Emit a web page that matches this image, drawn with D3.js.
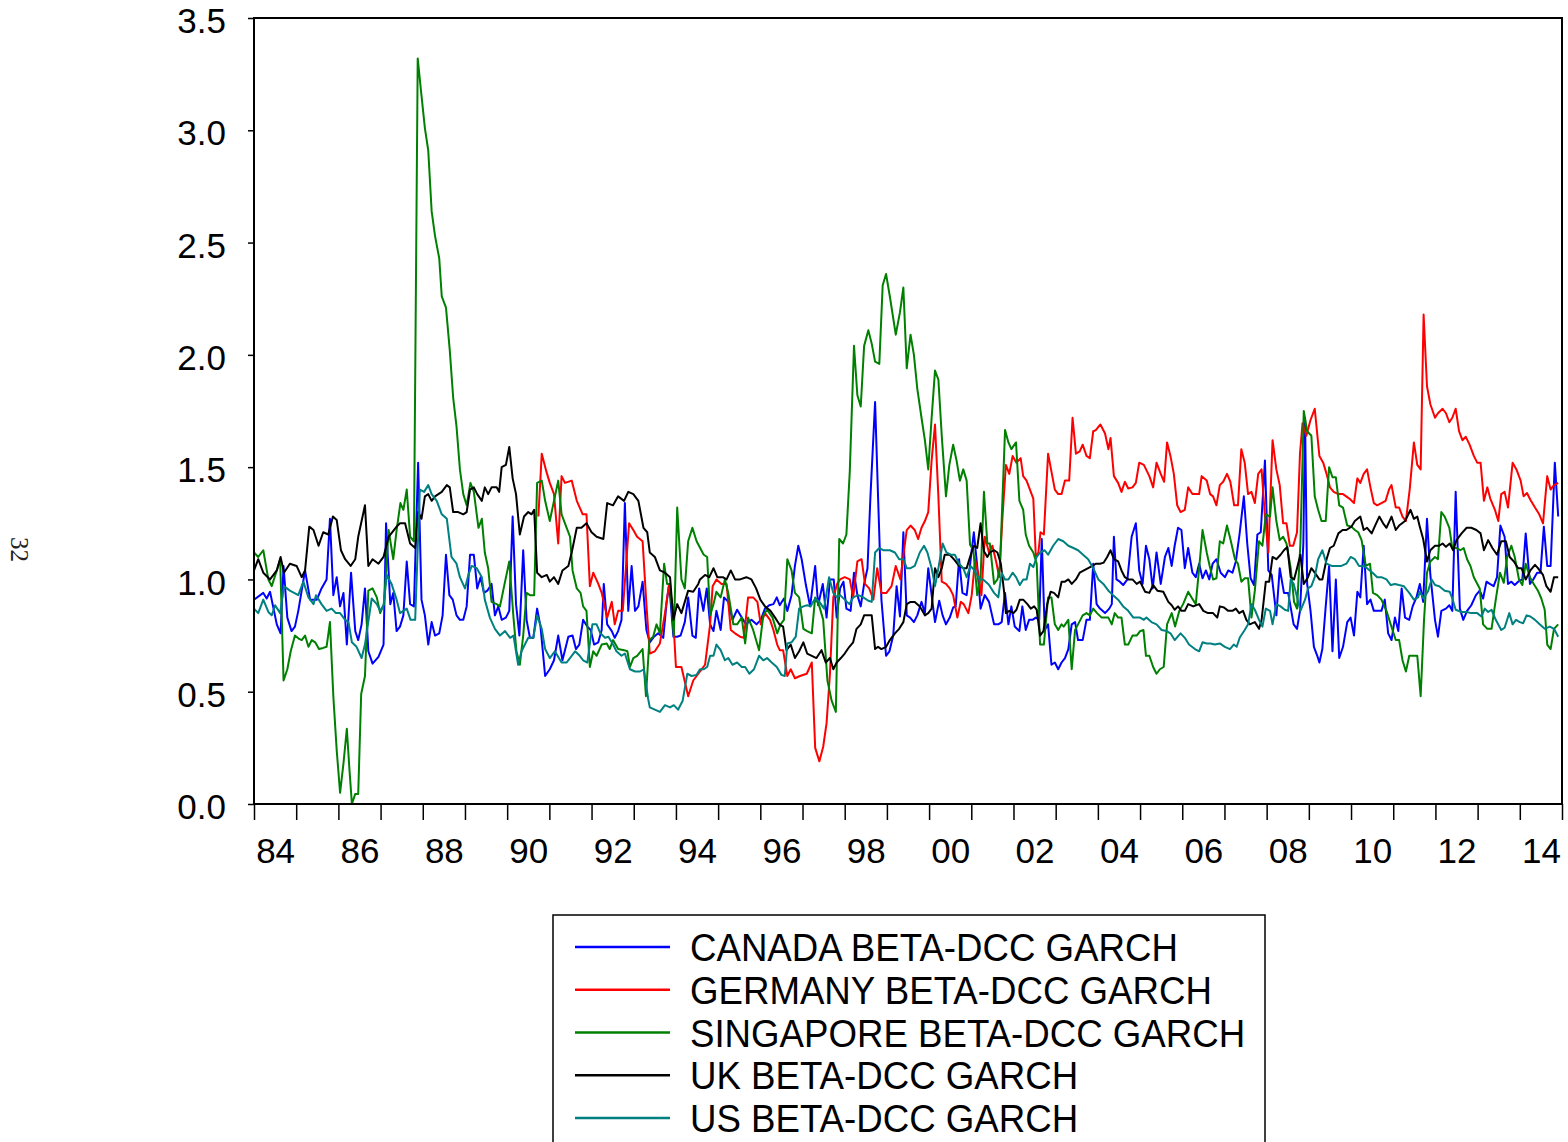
<!DOCTYPE html>
<html>
<head>
<meta charset="utf-8">
<script src="https://cdn.jsdelivr.net/npm/d3@7"></script>
<style>
  body { margin: 0; background: #fff; }
  svg { display: block; }
  .tick text { font-family: "Liberation Sans", Arial, sans-serif; }
</style>
</head>
<body>
<div id="chart"></div>
<script>
// beta series, [decimal year, value]
const canada = [[1984.00,0.91],[1984.22,0.94],[1984.30,0.915],[1984.38,0.945],[1984.54,0.80],[1984.63,0.76],[1984.70,1.06],[1984.79,0.83],[1984.89,0.77],[1984.97,0.79],[1985.05,0.86],[1985.21,1.04],[1985.33,0.91],[1985.49,0.91],[1985.60,0.96],[1985.72,1.00],[1985.80,1.27],[1985.88,0.93],[1985.96,1.01],[1986.04,0.88],[1986.12,0.94],[1986.20,0.71],[1986.30,1.03],[1986.40,0.77],[1986.47,0.73],[1986.55,0.80],[1986.63,0.96],[1986.71,0.68],[1986.81,0.625],[1986.95,0.655],[1987.07,0.71],[1987.13,1.25],[1987.23,0.89],[1987.30,0.94],[1987.38,0.77],
  [1987.46,0.79],[1987.54,0.84],[1987.62,1.08],[1987.70,0.89],[1987.79,0.88],[1987.89,1.52],[1987.97,0.91],[1988.05,0.84],[1988.13,0.71],[1988.21,0.81],[1988.29,0.75],[1988.39,0.76],[1988.47,0.84],[1988.55,1.11],[1988.63,0.93],[1988.71,0.91],[1988.80,0.84],[1988.88,0.82],[1988.96,0.82],[1989.04,0.88],[1989.12,1.11],[1989.21,1.11],[1989.29,0.96],[1989.37,1.01],[1989.45,0.94],[1989.53,0.95],[1989.63,0.98],[1989.71,0.84],[1989.79,0.88],[1989.87,0.82],[1989.97,0.83],[1990.05,0.86],[1990.13,1.28],[1990.21,0.89],[1990.29,0.75],[1990.38,1.13],[1990.46,0.82],[1990.54,0.74],[1990.62,0.74],[1990.71,0.87],[1990.79,0.79],[1990.90,0.57],
  [1991.01,0.60],[1991.11,0.64],[1991.21,0.75],[1991.31,0.64],[1991.45,0.745],[1991.55,0.75],[1991.63,0.69],[1991.71,0.71],[1991.80,0.82],[1991.90,0.79],[1991.98,0.775],[1992.06,0.71],[1992.16,0.72],[1992.24,0.775],[1992.29,0.98],[1992.37,0.80],[1992.48,0.77],[1992.55,0.74],[1992.63,0.77],[1992.71,0.82],[1992.79,1.34],[1992.87,0.86],[1992.95,1.06],[1993.03,0.86],[1993.11,0.88],[1993.21,0.99],[1993.30,0.775],[1993.38,0.72],[1993.48,0.745],[1993.58,0.76],[1993.70,0.74],[1993.78,0.90],[1993.84,0.98],[1993.94,0.745],[1994.03,0.745],[1994.11,0.75],[1994.21,0.81],[1994.29,0.92],[1994.39,0.75],[1994.47,0.74],[1994.55,0.96],
  [1994.65,0.86],[1994.73,0.96],[1994.81,0.80],[1994.89,0.77],[1994.96,0.86],[1995.06,0.775],[1995.14,0.92],[1995.24,0.90],[1995.34,0.82],[1995.45,0.865],[1995.56,0.83],[1995.66,0.80],[1995.79,0.82],[1995.91,0.80],[1996.01,0.82],[1996.11,0.87],[1996.21,0.885],[1996.31,0.89],[1996.39,0.92],[1996.46,0.885],[1996.56,0.915],[1996.64,0.86],[1996.74,0.93],[1996.82,1.06],[1996.90,1.15],[1996.98,1.09],[1997.08,0.975],[1997.18,0.88],[1997.30,1.06],[1997.37,0.885],[1997.48,0.98],[1997.57,0.83],[1997.65,1.00],[1997.74,1.00],[1997.81,0.83],
  [1997.89,0.96],[1997.97,0.99],[1998.04,0.87],[1998.14,0.86],[1998.22,1.03],[1998.30,0.93],[1998.38,0.88],[1998.46,0.98],[1998.54,1.05],[1998.61,1.37],[1998.72,1.79],[1998.79,1.37],[1998.87,0.91],[1998.98,0.66],[1999.06,0.68],[1999.15,0.75],[1999.23,0.97],[1999.31,0.835],[1999.39,1.21],[1999.47,0.84],[1999.55,0.83],[1999.64,0.81],[1999.72,0.84],[1999.82,0.90],[1999.90,0.85],[1999.98,1.05],[2000.06,0.93],[2000.14,0.81],[2000.24,0.905],[2000.32,0.84],[2000.40,0.80],[2000.49,0.83],[2000.57,0.875],[2000.63,0.88],[2000.71,1.09],[2000.79,0.94],[2000.89,0.93],[2000.98,1.08],[2001.06,1.21],[2001.14,1.06],[2001.22,0.87],[2001.32,0.93],[2001.42,0.90],
  [2001.54,0.80],[2001.64,0.80],[2001.72,0.81],[2001.80,0.94],[2001.88,0.80],[2001.95,0.88],[2002.03,0.79],[2002.14,0.77],[2002.21,0.88],[2002.29,0.775],[2002.37,0.82],[2002.45,0.82],[2002.53,0.83],[2002.61,0.82],[2002.67,1.18],[2002.74,0.775],[2002.82,0.80],[2002.90,0.62],[2002.98,0.63],[2003.06,0.60],[2003.14,0.63],[2003.22,0.65],[2003.30,0.69],[2003.38,0.80],[2003.46,0.81],[2003.53,0.73],[2003.64,0.73],[2003.73,0.82],[2003.81,0.82],[2003.89,1.07],[2003.97,0.89],[2004.05,0.87],[2004.17,0.85],[2004.27,0.87],[2004.33,0.89],[2004.38,1.19],[2004.44,1.00],[2004.52,0.99],[2004.60,0.975],[2004.70,1.00],[2004.80,1.19],[2004.90,1.25],[2004.98,1.04],
  [2005.06,0.98],[2005.14,1.15],[2005.22,1.09],[2005.30,0.96],[2005.39,1.12],[2005.49,0.98],[2005.59,1.10],[2005.67,1.14],[2005.75,1.06],[2005.82,1.15],[2005.90,1.23],[2005.98,1.22],[2006.06,1.05],[2006.14,1.14],[2006.24,1.03],[2006.32,1.01],[2006.40,1.07],[2006.48,1.005],[2006.56,1.04],[2006.64,1.00],[2006.72,1.07],[2006.81,1.09],[2006.91,1.03],[2007.01,1.01],[2007.09,1.04],[2007.19,1.03],[2007.27,1.08],[2007.36,1.205],[2007.46,1.37],[2007.54,1.16],[2007.62,1.005],[2007.70,0.975],[2007.78,1.20],[2007.86,1.21],[2007.96,1.53],[2008.04,1.04],[2008.12,1.02],[2008.23,0.84],[2008.31,1.05],[2008.41,0.94],[2008.51,0.94],
  [2008.64,0.80],[2008.72,0.78],[2008.79,0.86],[2008.87,1.16],[2008.91,1.72],[2008.96,0.98],[2009.04,0.86],[2009.12,0.70],[2009.20,0.66],[2009.25,0.63],[2009.32,0.69],[2009.40,0.88],[2009.48,1.06],[2009.56,0.68],[2009.64,1.00],[2009.72,0.65],[2009.81,0.70],[2009.91,0.81],[2009.99,0.83],[2010.07,0.75],[2010.15,0.945],[2010.22,0.92],[2010.30,1.15],[2010.38,0.89],[2010.46,0.91],[2010.54,0.86],[2010.62,0.86],[2010.72,0.86],[2010.80,0.91],[2010.88,0.76],[2010.96,0.73],[2011.04,0.83],[2011.12,0.77],[2011.20,0.96],[2011.28,0.83],[2011.38,0.82],[2011.46,0.88],[2011.55,0.92],
  [2011.63,0.98],[2011.71,0.90],[2011.80,1.27],[2011.88,1.02],[2011.99,0.82],[2012.06,0.745],[2012.14,0.86],[2012.25,0.87],[2012.33,0.885],[2012.40,0.86],[2012.48,1.39],[2012.58,0.87],[2012.66,0.82],[2012.75,0.86],[2012.85,0.885],[2012.96,0.93],[2013.05,0.95],[2013.13,0.915],[2013.21,0.99],[2013.29,0.98],[2013.38,0.97],[2013.46,1.01],[2013.54,1.24],[2013.64,1.19],[2013.72,0.98],[2013.80,0.99],[2013.88,0.975],[2013.96,0.99],[2014.06,1.00],[2014.14,1.205],[2014.24,0.98],[2014.32,1.00],[2014.41,1.03],[2014.49,1.03],[2014.57,1.235],[2014.65,1.06],[2014.73,1.06],[2014.83,1.52],[2014.91,1.28]];

const germany = [[1990.74,1.28],[1990.82,1.56],[1990.93,1.48],[1991.01,1.43],[1991.11,1.38],[1991.21,1.16],[1991.29,1.46],[1991.37,1.43],[1991.53,1.44],[1991.65,1.35],[1991.79,1.29],[1991.88,1.29],[1991.96,0.97],[1992.04,1.03],[1992.16,0.98],[1992.24,0.94],[1992.37,0.83],[1992.48,0.90],[1992.55,0.80],[1992.63,0.86],[1992.74,0.86],[1992.89,1.25],[1992.99,1.22],[1993.08,1.19],[1993.21,1.17],[1993.30,0.89],[1993.38,0.67],[1993.50,0.68],[1993.62,0.715],[1993.74,0.85],[1993.84,0.98],[1993.92,0.88],[1994.00,0.61],[1994.13,0.61],[1994.29,0.48],[1994.41,0.55],[1994.57,0.59],
  [1994.69,0.62],[1994.81,0.80],[1994.87,0.97],[1994.96,1.00],[1995.08,0.98],[1995.20,0.98],[1995.30,0.775],[1995.40,0.76],[1995.52,0.745],[1995.61,0.74],[1995.71,0.92],[1995.83,0.92],[1995.93,0.90],[1996.01,0.80],[1996.11,0.85],[1996.23,0.82],[1996.31,0.775],[1996.40,0.71],[1996.46,0.685],[1996.54,0.685],[1996.64,0.57],[1996.72,0.60],[1996.82,0.56],[1996.94,0.57],[1997.10,0.58],[1997.22,0.63],[1997.30,0.25],[1997.40,0.19],[1997.49,0.255],[1997.57,0.36],[1997.65,0.58],[1997.73,0.92],[1997.82,0.98],
  [1997.89,1.00],[1998.00,1.01],[1998.12,1.00],[1998.20,0.92],[1998.30,1.08],[1998.40,1.09],[1998.48,0.98],[1998.58,0.96],[1998.68,0.91],[1998.77,1.05],[1998.87,0.94],[1998.99,0.94],[1999.11,0.97],[1999.21,1.06],[1999.32,1.00],[1999.40,1.12],[1999.47,1.22],[1999.56,1.24],[1999.66,1.22],[1999.74,1.18],[1999.82,1.23],[1999.90,1.26],[1999.98,1.30],[2000.06,1.53],[2000.14,1.69],[2000.22,1.37],[2000.30,0.99],[2000.40,0.98],[2000.49,0.96],[2000.57,0.93],[2000.67,0.83],[2000.75,0.90],[2000.82,0.89],[2000.93,0.85],[2001.01,0.93],[2001.09,1.09],[2001.17,1.02],[2001.24,0.93],[2001.32,1.19],[2001.42,1.12],
  [2001.50,1.15],[2001.60,1.07],[2001.66,1.01],[2001.74,1.28],[2001.82,1.51],[2001.90,1.47],[2001.98,1.55],[2002.07,1.52],[2002.17,1.54],[2002.23,1.46],[2002.31,1.44],[2002.39,1.40],[2002.47,1.36],[2002.53,1.10],[2002.59,1.12],[2002.64,1.21],[2002.72,1.20],[2002.82,1.56],[2002.90,1.48],[2002.98,1.40],[2003.06,1.38],[2003.14,1.38],[2003.22,1.44],[2003.32,1.44],[2003.40,1.72],[2003.48,1.56],[2003.57,1.57],[2003.64,1.60],[2003.73,1.55],[2003.81,1.54],[2003.89,1.66],[2003.95,1.665],[2004.06,1.69],[2004.17,1.65],[2004.25,1.58],[2004.30,1.63],[2004.38,1.46],[2004.48,1.43],[2004.56,1.39],[2004.64,1.435],[2004.72,1.405],[2004.82,1.41],[2004.90,1.43],[2004.98,1.52],
  [2005.09,1.51],[2005.22,1.46],[2005.31,1.41],[2005.39,1.52],[2005.49,1.47],[2005.57,1.435],[2005.64,1.61],[2005.72,1.55],[2005.80,1.47],[2005.88,1.33],[2005.96,1.30],[2006.06,1.31],[2006.14,1.41],[2006.24,1.38],[2006.34,1.38],[2006.40,1.38],[2006.46,1.46],[2006.58,1.44],[2006.66,1.38],[2006.73,1.37],[2006.81,1.33],[2006.89,1.42],[2006.97,1.435],[2007.06,1.47],[2007.14,1.435],[2007.23,1.33],[2007.32,1.33],[2007.40,1.58],[2007.48,1.52],[2007.56,1.38],[2007.64,1.39],[2007.72,1.34],[2007.80,1.47],[2007.88,1.49],[2007.96,1.28],[2008.04,1.12],[2008.14,1.62],[2008.23,1.49],[2008.31,1.42],[2008.39,1.25],[2008.47,1.25],
  [2008.55,1.15],[2008.63,1.15],[2008.72,1.21],[2008.79,1.56],[2008.85,1.695],[2008.94,1.64],[2009.04,1.71],[2009.14,1.76],[2009.25,1.55],[2009.34,1.52],[2009.42,1.47],[2009.50,1.41],[2009.59,1.39],[2009.70,1.38],[2009.81,1.38],[2009.96,1.36],[2010.07,1.34],[2010.15,1.45],[2010.22,1.43],[2010.30,1.47],[2010.38,1.49],[2010.46,1.41],[2010.54,1.34],[2010.62,1.33],[2010.72,1.34],[2010.82,1.35],[2010.90,1.40],[2010.96,1.42],[2011.06,1.32],[2011.14,1.32],[2011.22,1.28],[2011.30,1.26],[2011.39,1.40],[2011.49,1.61],[2011.57,1.51],[2011.65,1.49],
  [2011.72,2.18],[2011.80,1.86],[2011.88,1.78],[2011.99,1.72],[2012.06,1.74],[2012.17,1.76],[2012.25,1.74],[2012.33,1.70],[2012.40,1.72],[2012.48,1.76],[2012.56,1.66],[2012.64,1.62],[2012.72,1.635],[2012.81,1.60],[2012.91,1.55],[2012.99,1.52],[2013.07,1.52],[2013.15,1.35],[2013.23,1.41],[2013.30,1.36],[2013.41,1.31],[2013.49,1.26],[2013.56,1.38],[2013.64,1.39],[2013.72,1.32],[2013.83,1.52],[2013.92,1.49],[2014.02,1.44],[2014.09,1.37],[2014.17,1.385],[2014.25,1.355],[2014.36,1.32],[2014.46,1.29],[2014.55,1.25],[2014.65,1.46],[2014.73,1.40],[2014.81,1.42],[2014.91,1.43]];

const singapore = [[1984.00,1.12],[1984.10,1.10],[1984.22,1.13],[1984.34,1.00],[1984.42,0.97],[1984.54,1.04],[1984.62,1.09],[1984.70,0.55],[1984.79,0.60],[1984.87,0.68],[1984.97,0.75],[1985.07,0.735],[1985.13,0.73],[1985.21,0.75],[1985.29,0.70],[1985.37,0.73],[1985.45,0.72],[1985.54,0.69],[1985.64,0.695],[1985.72,0.70],[1985.80,0.81],[1985.88,0.48],[1985.96,0.24],[1986.04,0.05],[1986.12,0.18],[1986.20,0.335],[1986.26,0.16],[1986.32,0.0],[1986.40,0.045],[1986.47,0.045],[1986.54,0.49],[1986.63,0.57],[1986.71,0.95],[1986.81,0.96],[1986.91,0.92],[1986.99,0.85],[1987.08,0.89],[1987.19,1.22],[1987.30,1.09],[1987.38,1.22],
  [1987.47,1.34],[1987.54,1.31],[1987.62,1.40],[1987.70,1.19],[1987.79,1.17],[1987.88,3.32],[1987.95,3.19],[1988.05,3.01],[1988.13,2.91],[1988.21,2.64],[1988.29,2.53],[1988.39,2.43],[1988.45,2.26],[1988.55,2.21],[1988.64,2.02],[1988.72,1.81],[1988.80,1.68],[1988.88,1.49],[1988.96,1.38],[1989.04,1.33],[1989.13,1.43],[1989.21,1.39],[1989.32,1.23],[1989.40,1.27],[1989.47,1.12],[1989.55,1.05],[1989.63,0.90],[1989.75,0.89],[1989.83,0.88],[1989.95,0.99],[1990.05,1.08],[1990.15,0.83],[1990.22,0.68],[1990.30,0.62],[1990.38,0.75],[1990.46,0.94],[1990.54,0.93],[1990.64,0.93],[1990.71,1.43],[1990.82,1.44],[1990.90,1.35],
  [1991.01,1.26],[1991.21,1.44],[1991.29,1.29],[1991.41,1.23],[1991.49,1.19],[1991.55,1.04],[1991.65,0.96],[1991.74,0.94],[1991.80,0.88],[1991.88,0.86],[1991.96,0.61],[1992.04,0.68],[1992.12,0.66],[1992.24,0.71],[1992.36,0.715],[1992.43,0.69],[1992.51,0.73],[1992.63,0.69],[1992.77,0.685],[1992.85,0.68],[1992.91,0.61],[1992.99,0.65],[1993.08,0.66],[1993.21,0.69],[1993.29,0.48],[1993.37,0.73],[1993.46,0.745],[1993.54,0.80],[1993.62,0.76],[1993.72,1.07],[1993.79,0.98],[1993.86,0.98],[1993.95,0.75],[1994.03,1.32],[1994.13,1.00],[1994.21,0.96],[1994.29,1.17],[1994.39,1.23],[1994.49,1.17],[1994.63,1.12],
  [1994.66,1.11],[1994.74,1.10],[1994.81,0.84],[1994.89,0.89],[1994.96,0.945],[1995.06,0.92],[1995.16,1.00],[1995.24,0.94],[1995.36,0.80],[1995.45,0.80],[1995.56,0.83],[1995.64,0.715],[1995.71,0.83],[1995.83,0.775],[1995.97,0.685],[1996.07,0.84],[1996.16,0.865],[1996.29,0.83],[1996.40,0.76],[1996.48,0.80],[1996.56,0.82],[1996.64,1.09],[1996.74,1.04],[1996.82,0.94],[1996.92,0.92],[1997.02,0.78],[1997.11,0.77],[1997.22,0.76],[1997.30,0.92],[1997.40,0.88],[1997.49,0.82],[1997.59,0.55],[1997.69,0.46],[1997.79,0.41],[1997.87,1.18],[1997.96,1.16],
  [1998.04,1.20],[1998.12,1.48],[1998.22,2.04],[1998.30,1.82],[1998.38,1.77],[1998.46,2.04],[1998.56,2.11],[1998.64,2.05],[1998.72,1.97],[1998.82,1.96],[1998.90,2.31],[1998.98,2.36],[1999.07,2.26],[1999.21,2.09],[1999.31,2.19],[1999.39,2.30],[1999.47,1.94],[1999.56,2.09],[1999.64,2.00],[1999.72,1.85],[1999.82,1.72],[1999.90,1.62],[1999.98,1.49],[2000.06,1.72],[2000.14,1.93],[2000.22,1.89],[2000.30,1.64],[2000.40,1.37],[2000.48,1.51],[2000.57,1.60],[2000.65,1.53],[2000.73,1.44],[2000.81,1.49],[2000.89,1.44],[2000.97,1.155],[2001.05,1.13],[2001.14,0.93],[2001.22,1.01],[2001.30,1.39],[2001.38,1.16],
  [2001.44,1.16],[2001.54,0.98],[2001.62,1.00],[2001.68,1.06],[2001.80,1.665],[2001.88,1.61],[2001.95,1.58],[2002.06,1.61],[2002.14,1.35],[2002.23,1.31],[2002.29,1.20],[2002.37,1.15],[2002.47,1.12],[2002.55,1.07],[2002.63,0.71],[2002.72,0.71],[2002.82,0.92],[2002.90,0.92],[2002.98,0.80],[2003.06,0.775],[2003.14,0.80],[2003.19,0.79],[2003.30,0.82],[2003.38,0.60],[2003.46,0.775],[2003.53,0.80],[2003.64,0.84],[2003.73,0.85],[2003.81,0.84],[2003.89,0.87],[2003.98,0.85],[2004.09,0.83],[2004.17,0.83],[2004.25,0.83],[2004.33,0.80],[2004.40,0.85],[2004.48,0.83],[2004.56,0.83],[2004.64,0.71],[2004.72,0.71],[2004.82,0.75],[2004.92,0.75],
  [2005.00,0.77],[2005.08,0.775],[2005.14,0.66],[2005.22,0.66],[2005.31,0.61],[2005.39,0.58],[2005.47,0.60],[2005.56,0.61],[2005.64,0.80],[2005.75,0.85],[2005.83,0.79],[2005.93,0.86],[2006.02,0.89],[2006.14,0.945],[2006.22,0.92],[2006.32,0.89],[2006.42,1.09],[2006.48,1.22],[2006.58,1.12],[2006.65,1.06],[2006.73,1.00],[2006.81,1.005],[2006.89,1.17],[2006.97,1.16],[2007.06,1.24],[2007.14,1.18],[2007.25,1.09],[2007.32,1.07],[2007.40,0.99],[2007.48,1.005],[2007.56,1.005],[2007.64,0.83],[2007.72,0.95],[2007.82,1.17],[2007.90,1.15],[2007.98,1.29],[2008.08,1.28],[2008.14,1.41],[2008.23,1.26],[2008.31,1.175],[2008.39,1.19],[2008.47,1.16],
  [2008.57,1.05],[2008.65,0.90],[2008.72,0.87],[2008.80,1.16],[2008.88,1.75],[2008.96,1.66],[2009.06,1.64],[2009.14,1.37],[2009.22,1.31],[2009.30,1.26],[2009.40,1.26],[2009.48,1.50],[2009.56,1.455],[2009.64,1.455],[2009.72,1.33],[2009.81,1.32],[2009.91,1.24],[2010.01,1.235],[2010.09,1.22],[2010.17,1.21],[2010.25,1.175],[2010.35,1.06],[2010.45,1.07],[2010.52,0.94],[2010.62,0.93],[2010.72,0.91],[2010.84,0.86],[2010.94,0.80],[2011.06,0.73],[2011.14,0.73],[2011.22,0.64],[2011.30,0.59],[2011.38,0.66],[2011.49,0.66],[2011.57,0.66],[2011.65,0.48],[2011.73,0.82],[2011.80,1.03],[2011.88,1.08],
  [2011.99,1.10],[2012.06,1.09],[2012.14,1.30],[2012.22,1.28],[2012.33,1.23],[2012.40,1.14],[2012.50,1.14],[2012.59,1.13],[2012.67,1.14],[2012.75,1.09],[2012.83,1.06],[2012.91,1.01],[2013.05,0.96],[2013.13,0.80],[2013.23,0.78],[2013.33,0.78],[2013.43,0.91],[2013.53,1.03],[2013.62,0.985],[2013.70,1.10],[2013.80,1.15],[2013.88,1.10],[2013.98,1.00],[2014.06,0.975],[2014.14,1.07],[2014.24,1.01],[2014.33,0.98],[2014.43,0.95],[2014.51,0.915],[2014.59,0.865],[2014.65,0.71],[2014.73,0.69],[2014.81,0.78],[2014.91,0.80]];

const uk = [[1984.00,1.04],[1984.10,1.09],[1984.22,1.03],[1984.38,1.00],[1984.54,1.04],[1984.63,1.10],[1984.71,1.03],[1984.85,1.07],[1985.01,1.06],[1985.13,1.01],[1985.21,1.04],[1985.31,1.235],[1985.41,1.22],[1985.53,1.15],[1985.64,1.21],[1985.76,1.20],[1985.87,1.28],[1985.96,1.265],[1986.06,1.13],[1986.16,1.09],[1986.29,1.06],[1986.40,1.09],[1986.47,1.19],[1986.63,1.33],[1986.71,1.06],[1986.81,1.09],[1986.95,1.07],[1987.07,1.10],[1987.19,1.19],[1987.38,1.235],
  [1987.46,1.25],[1987.58,1.25],[1987.70,1.16],[1987.82,1.14],[1987.89,1.30],[1987.97,1.27],[1988.05,1.37],[1988.13,1.38],[1988.21,1.35],[1988.29,1.37],[1988.45,1.39],[1988.57,1.42],[1988.64,1.41],[1988.72,1.30],[1988.84,1.30],[1988.96,1.29],[1989.04,1.30],[1989.12,1.40],[1989.21,1.41],[1989.29,1.38],[1989.40,1.35],[1989.47,1.41],[1989.55,1.38],[1989.63,1.41],[1989.75,1.41],[1989.81,1.39],[1989.87,1.50],[1989.97,1.51],[1990.05,1.59],[1990.13,1.45],[1990.21,1.38],[1990.30,1.20],[1990.40,1.28],[1990.50,1.30],[1990.58,1.29],[1990.64,1.31],[1990.71,1.03],[1990.82,1.01],[1990.94,1.02],
  [1991.01,0.99],[1991.11,1.01],[1991.21,0.98],[1991.31,1.04],[1991.45,1.06],[1991.53,1.12],[1991.65,1.23],[1991.76,1.23],[1991.88,1.25],[1992.00,1.21],[1992.12,1.19],[1992.28,1.18],[1992.37,1.34],[1992.51,1.33],[1992.63,1.37],[1992.77,1.35],[1992.87,1.39],[1992.99,1.38],[1993.11,1.35],[1993.23,1.23],[1993.32,1.21],[1993.38,1.12],[1993.50,1.10],[1993.62,1.04],[1993.74,1.03],[1993.86,1.01],[1993.94,0.82],[1994.03,0.89],[1994.13,0.85],[1994.29,0.95],[1994.41,0.945],[1994.53,0.98],
  [1994.57,1.00],[1994.69,1.02],[1994.79,1.01],[1994.89,1.05],[1994.98,1.01],[1995.11,1.01],[1995.20,1.00],[1995.30,1.04],[1995.40,1.00],[1995.52,1.00],[1995.67,1.01],[1995.79,1.00],[1995.90,0.96],[1996.00,0.91],[1996.11,0.88],[1996.24,0.86],[1996.35,0.83],[1996.45,0.80],[1996.54,0.79],[1996.62,0.685],[1996.72,0.71],[1996.82,0.65],[1996.92,0.68],[1997.02,0.72],[1997.11,0.67],[1997.22,0.66],[1997.33,0.65],[1997.45,0.685],[1997.55,0.63],[1997.65,0.65],[1997.73,0.60],[1997.81,0.63],
  [1997.91,0.65],[1998.00,0.67],[1998.11,0.70],[1998.20,0.72],[1998.28,0.78],[1998.38,0.80],[1998.46,0.84],[1998.56,0.84],[1998.64,0.84],[1998.72,0.69],[1998.79,0.70],[1998.87,0.69],[1998.98,0.70],[1999.07,0.73],[1999.19,0.76],[1999.29,0.78],[1999.39,0.81],[1999.47,0.89],[1999.56,0.90],[1999.66,0.90],[1999.78,0.88],[1999.90,0.84],[1999.98,0.85],[2000.06,0.87],[2000.14,1.05],[2000.22,1.01],[2000.30,1.05],[2000.37,1.11],[2000.49,1.11],[2000.61,1.085],[2000.71,1.06],[2000.81,1.05],[2000.89,1.05],[2000.97,1.10],[2001.06,1.15],[2001.14,1.14],[2001.22,1.25],[2001.30,1.125],[2001.38,1.10],
  [2001.44,1.12],[2001.54,1.13],[2001.62,1.12],[2001.70,1.07],[2001.78,0.94],[2001.82,0.85],[2001.90,0.86],[2002.00,0.85],[2002.07,0.865],[2002.15,0.91],[2002.23,0.91],[2002.33,0.89],[2002.41,0.87],[2002.49,0.88],[2002.55,0.865],[2002.63,0.75],[2002.71,0.77],[2002.80,0.89],[2002.88,0.945],[2002.96,0.94],[2003.06,0.92],[2003.14,0.99],[2003.22,0.99],[2003.30,1.00],[2003.38,0.98],[2003.48,1.00],[2003.57,1.03],[2003.67,1.04],[2003.77,1.05],[2003.87,1.06],[2003.95,1.07],[2004.05,1.07],[2004.14,1.075],[2004.22,1.10],[2004.30,1.13],[2004.38,1.09],[2004.48,1.08],[2004.56,1.04],[2004.64,1.01],[2004.72,1.00],[2004.82,1.00],[2004.92,0.98],
  [2005.00,0.99],[2005.12,0.945],[2005.22,0.94],[2005.31,0.975],[2005.41,0.95],[2005.55,0.945],[2005.67,0.90],[2005.75,0.885],[2005.82,0.865],[2005.90,0.88],[2005.98,0.86],[2006.06,0.86],[2006.14,0.89],[2006.26,0.88],[2006.40,0.89],[2006.50,0.86],[2006.61,0.85],[2006.73,0.85],[2006.83,0.83],[2006.89,0.88],[2006.99,0.875],[2007.09,0.86],[2007.19,0.86],[2007.27,0.87],[2007.35,0.85],[2007.44,0.86],[2007.52,0.82],[2007.60,0.80],[2007.72,0.81],[2007.82,0.78],[2007.88,0.82],[2007.98,0.99],[2008.06,0.99],[2008.14,1.10],[2008.23,1.09],[2008.33,1.11],[2008.41,1.13],[2008.49,1.145],
  [2008.57,1.01],[2008.65,1.00],[2008.72,1.05],[2008.80,1.11],[2008.88,0.98],[2008.98,1.01],[2009.06,1.05],[2009.14,1.03],[2009.25,1.00],[2009.32,1.00],[2009.42,1.09],[2009.50,1.14],[2009.59,1.15],[2009.70,1.205],[2009.80,1.22],[2009.89,1.22],[2010.01,1.235],[2010.09,1.26],[2010.22,1.28],[2010.30,1.22],[2010.38,1.23],[2010.49,1.205],[2010.56,1.235],[2010.67,1.28],[2010.76,1.25],[2010.84,1.23],[2010.96,1.28],[2011.06,1.22],[2011.14,1.24],[2011.28,1.26],[2011.41,1.31],[2011.49,1.27],[2011.57,1.28],
  [2011.63,1.235],[2011.71,1.18],[2011.80,1.08],[2011.88,1.13],[2011.99,1.15],[2012.09,1.15],[2012.17,1.16],[2012.25,1.145],[2012.34,1.16],[2012.42,1.13],[2012.50,1.175],[2012.62,1.205],[2012.74,1.23],[2012.85,1.23],[2012.97,1.22],[2013.07,1.205],[2013.15,1.13],[2013.25,1.175],[2013.35,1.14],[2013.46,1.11],[2013.56,1.17],[2013.67,1.17],[2013.76,1.10],[2013.86,1.08],[2013.96,1.05],[2014.04,1.05],[2014.14,1.00],[2014.25,1.04],[2014.36,1.065],[2014.43,1.05],[2014.55,1.02],[2014.63,0.97],[2014.73,0.945],[2014.81,1.01],[2014.91,1.01]];

const us = [[1984.00,0.87],[1984.10,0.85],[1984.22,0.91],[1984.34,0.855],[1984.42,0.84],[1984.50,0.885],[1984.62,0.85],[1984.71,0.97],[1984.85,0.95],[1985.05,0.93],[1985.17,0.99],[1985.29,0.92],[1985.41,0.89],[1985.47,0.93],[1985.60,0.89],[1985.72,0.86],[1985.84,0.87],[1985.94,0.85],[1986.04,0.85],[1986.16,0.82],[1986.24,0.81],[1986.32,0.72],[1986.43,0.70],[1986.55,0.65],[1986.63,0.71],[1986.79,0.915],[1986.91,0.89],[1986.99,0.86],[1987.07,0.885],[1987.15,1.02],[1987.26,0.98],[1987.38,0.91],
  [1987.46,0.85],[1987.54,0.86],[1987.62,0.87],[1987.71,0.82],[1987.82,0.82],[1987.93,1.40],[1988.03,1.39],[1988.13,1.42],[1988.21,1.38],[1988.33,1.35],[1988.45,1.29],[1988.57,1.27],[1988.68,1.10],[1988.80,1.07],[1988.88,1.01],[1989.00,0.96],[1989.08,1.02],[1989.16,1.06],[1989.28,1.05],[1989.40,1.01],[1989.47,0.91],[1989.59,0.83],[1989.71,0.78],[1989.83,0.75],[1989.95,0.77],[1990.07,0.74],[1990.15,0.75],[1990.26,0.62],[1990.34,0.68],[1990.50,0.74],[1990.62,0.74],[1990.71,0.84],[1990.82,0.78],[1990.90,0.69],
  [1991.01,0.65],[1991.13,0.68],[1991.29,0.63],[1991.41,0.63],[1991.61,0.68],[1991.72,0.66],[1991.80,0.64],[1991.90,0.63],[1992.02,0.80],[1992.12,0.80],[1992.21,0.76],[1992.32,0.74],[1992.40,0.745],[1992.51,0.71],[1992.59,0.68],[1992.71,0.66],[1992.79,0.67],[1992.91,0.60],[1993.03,0.59],[1993.15,0.59],[1993.24,0.60],[1993.34,0.47],[1993.38,0.43],[1993.50,0.42],[1993.62,0.41],[1993.74,0.44],[1993.86,0.43],[1993.95,0.44],[1994.05,0.42],[1994.16,0.46],[1994.27,0.58],[1994.37,0.57],[1994.49,0.575],
  [1994.57,0.60],[1994.66,0.60],[1994.74,0.61],[1994.81,0.66],[1994.89,0.66],[1994.96,0.71],[1995.06,0.685],[1995.16,0.64],[1995.24,0.65],[1995.34,0.62],[1995.45,0.63],[1995.56,0.61],[1995.64,0.61],[1995.74,0.58],[1995.85,0.60],[1995.97,0.66],[1996.07,0.64],[1996.16,0.65],[1996.27,0.63],[1996.39,0.61],[1996.50,0.575],[1996.58,0.57],[1996.64,0.715],[1996.74,0.72],[1996.84,0.745],[1996.92,0.87],[1997.02,0.88],[1997.11,0.885],[1997.19,0.88],[1997.30,0.915],[1997.40,0.90],[1997.51,0.87],[1997.63,1.01],[1997.73,0.94],[1997.82,0.92],
  [1997.89,0.93],[1998.00,0.91],[1998.11,0.89],[1998.20,0.92],[1998.32,0.93],[1998.44,0.92],[1998.56,0.905],[1998.64,0.90],[1998.72,1.12],[1998.82,1.14],[1998.91,1.13],[1999.07,1.13],[1999.19,1.12],[1999.29,1.09],[1999.39,1.09],[1999.47,1.05],[1999.56,1.05],[1999.66,1.06],[1999.78,1.12],[1999.88,1.15],[1999.96,1.12],[2000.06,1.05],[2000.14,0.97],[2000.22,1.05],[2000.32,1.16],[2000.41,1.12],[2000.51,1.11],[2000.61,1.11],[2000.71,1.07],[2000.81,1.05],[2000.89,1.01],[2000.98,1.06],[2001.08,1.04],[2001.19,1.00],[2001.28,1.00],[2001.40,0.98],
  [2001.44,0.97],[2001.54,0.94],[2001.64,0.92],[2001.72,1.03],[2001.80,1.00],[2001.88,1.00],[2001.98,1.03],[2002.06,1.01],[2002.15,0.975],[2002.23,1.00],[2002.31,1.00],[2002.39,1.07],[2002.47,1.055],[2002.55,1.10],[2002.63,1.12],[2002.74,1.13],[2002.82,1.11],[2002.94,1.15],[2003.06,1.18],[2003.18,1.17],[2003.30,1.15],[2003.42,1.14],[2003.53,1.13],[2003.65,1.11],[2003.77,1.09],[2003.89,1.05],[2004.01,1.00],[2004.13,0.98],[2004.25,0.95],[2004.36,0.93],[2004.48,0.91],[2004.60,0.88],[2004.72,0.86],[2004.84,0.83],[2004.96,0.83],
  [2005.00,0.83],[2005.09,0.82],[2005.15,0.83],[2005.27,0.81],[2005.39,0.80],[2005.51,0.775],[2005.63,0.77],[2005.72,0.76],[2005.82,0.73],[2005.96,0.76],[2006.06,0.74],[2006.16,0.71],[2006.30,0.69],[2006.40,0.68],[2006.48,0.72],[2006.58,0.715],[2006.67,0.715],[2006.77,0.71],[2006.89,0.715],[2007.01,0.70],[2007.13,0.69],[2007.22,0.71],[2007.29,0.70],[2007.36,0.74],[2007.48,0.775],[2007.56,0.80],[2007.64,0.89],[2007.72,0.865],[2007.82,0.82],[2007.90,0.79],[2007.98,0.87],[2008.08,0.86],[2008.14,0.80],[2008.23,0.89],[2008.33,0.88],[2008.43,0.865],[2008.51,0.86],
  [2008.57,1.00],[2008.64,0.98],[2008.71,0.93],[2008.80,0.86],[2008.91,0.91],[2008.98,0.96],[2009.06,0.97],[2009.14,1.01],[2009.22,1.09],[2009.32,1.13],[2009.42,1.07],[2009.54,1.06],[2009.66,1.06],[2009.77,1.06],[2009.89,1.07],[2009.99,1.10],[2010.09,1.09],[2010.19,1.06],[2010.29,1.06],[2010.38,1.05],[2010.51,1.03],[2010.62,1.01],[2010.72,1.01],[2010.84,1.00],[2010.94,0.975],[2011.04,0.98],[2011.14,0.975],[2011.25,0.97],[2011.38,0.94],[2011.49,0.91],[2011.59,0.92],
  [2011.63,0.945],[2011.72,0.915],[2011.83,0.95],[2011.91,1.00],[2011.99,0.975],[2012.09,0.97],[2012.22,0.95],[2012.34,0.945],[2012.40,0.915],[2012.48,0.865],[2012.62,0.855],[2012.74,0.855],[2012.85,0.85],[2012.99,0.85],[2013.09,0.835],[2013.17,0.87],[2013.25,0.855],[2013.33,0.865],[2013.43,0.82],[2013.56,0.775],[2013.64,0.785],[2013.75,0.85],[2013.83,0.80],[2013.91,0.82],[2014.00,0.81],[2014.08,0.805],[2014.16,0.84],[2014.25,0.835],[2014.36,0.82],[2014.47,0.80],[2014.59,0.78],[2014.71,0.79],[2014.81,0.78],[2014.91,0.745]];

const seriesNames = ["CANADA BETA-DCC GARCH", "GERMANY BETA-DCC GARCH", "SINGAPORE BETA-DCC GARCH", "UK BETA-DCC GARCH", "US BETA-DCC GARCH"];
const seriesColors = ["#0000ff", "#ff0000", "#008000", "#000000", "#008080"];
const yTicks = [0, 0.5, 1.0, 1.5, 2.0, 2.5, 3.0, 3.5];
const yearTicks = d3.range(1984, 2016);
const yearLabels = d3.range(1984, 2015, 2);

const allSeries = [canada, germany, singapore, uk, us];

var W = 1568, H = 1142;
var margin = {top: 18, right: 6, bottom: 338, left: 254};
var width = W - margin.left - margin.right,
    height = H - margin.top - margin.bottom;

var svg = d3.select("#chart")
  .append("svg")
  .attr("width", W)
  .attr("height", H);

var g = svg.append("g")
  .attr("transform", "translate(" + margin.left + "," + margin.top + ")");

var x = d3.scaleLinear().domain([1984, 2015]).range([0, width]);
var y = d3.scaleLinear().domain([0, 3.5]).range([height, 0]);

// y axis
var yAx = g.append("g")
  .call(d3.axisLeft(y).tickValues(yTicks).tickFormat(d3.format(".1f")).tickSize(6).tickPadding(22));
yAx.select(".domain").remove();
yAx.selectAll(".tick line").attr("stroke", "#000").attr("stroke-width", 1.5);
yAx.selectAll(".tick text").style("font-size", "35px").attr("fill", "#000").attr("dy", "0.42em");

// x axis: yearly ticks
var xAx = g.append("g")
  .attr("transform", "translate(0," + height + ")")
  .call(d3.axisBottom(x).tickValues(yearTicks).tickFormat("").tickSize(16));
xAx.select(".domain").remove();
xAx.selectAll(".tick line").attr("stroke", "#000").attr("stroke-width", 1.5);

// x labels centred in the year
var xLab = g.append("g")
  .attr("transform", "translate(0," + height + ")")
  .call(d3.axisBottom(x).tickValues(yearLabels.map(d => d + 0.5))
    .tickFormat(d => d3.format("02")(Math.floor(d) % 100)).tickSize(0).tickPadding(34));
xLab.select(".domain").remove();
xLab.selectAll(".tick text").style("font-size", "35px").attr("fill", "#000");

// lines
var line = d3.line().x(d => x(d[0])).y(d => y(d[1]));
allSeries.forEach(function(s, i) {
  g.append("path")
    .datum(s)
    .attr("d", line)
    .attr("fill", "none")
    .attr("stroke", seriesColors[i])
    .attr("stroke-width", 2)
    .attr("stroke-linejoin", "round");
});

// frame
g.append("rect")
  .attr("x", 0).attr("y", 0)
  .attr("width", width).attr("height", height)
  .attr("fill", "none")
  .attr("stroke", "#000")
  .attr("stroke-width", 2);

// legend
var leg = svg.append("g").attr("transform", "translate(553,915)");
leg.append("rect")
  .attr("x", 0).attr("y", 0)
  .attr("width", 712).attr("height", 260)
  .attr("fill", "#fff")
  .attr("stroke", "#000")
  .attr("stroke-width", 1.5);

var rowY = d3.scalePoint().domain(seriesNames).range([32, 203]);
seriesNames.forEach(function(nm, i) {
  var yy = rowY(nm);
  leg.append("line")
    .attr("x1", 22).attr("x2", 117)
    .attr("y1", yy).attr("y2", yy)
    .attr("stroke", seriesColors[i])
    .attr("stroke-width", 2.5);
  leg.append("text")
    .attr("transform", "translate(137," + (yy + 14) + ") scale(0.94,1)")
    .style("font-family", "'Liberation Sans', Arial, sans-serif")
    .style("font-size", "39px")
    .attr("fill", "#000")
    .text(nm);
});

// page number in the margin
svg.append("text")
  .attr("transform", "translate(11,537) rotate(90)")
  .style("font-family", "'Liberation Serif', 'Times New Roman', serif")
  .style("font-size", "25px")
  .attr("fill", "#222")
  .text("32");
</script>
</body>
</html>
